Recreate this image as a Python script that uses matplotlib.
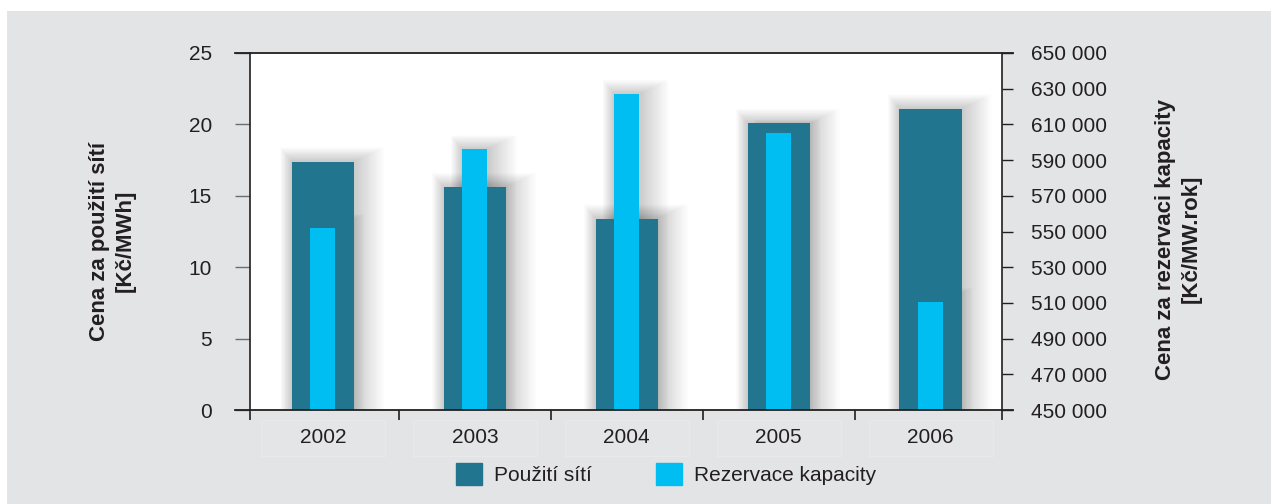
import matplotlib
matplotlib.use("Agg")
import matplotlib.pyplot as plt
from matplotlib.patches import Rectangle
from matplotlib.ticker import FuncFormatter, FixedLocator
import numpy as np

plt.rcParams['font.family'] = ['Liberation Sans', 'DejaVu Sans']

years = ['2002', '2003', '2004', '2005', '2006']
pouziti_siti = [17.4, 15.6, 13.4, 20.1, 21.1]              # Kč/MWh (left axis)
rezervace_kapacity = [552000, 596000, 627000, 605000, 510500]  # Kč/MW.rok (right axis)
left_ticks = [0, 5, 10, 15, 20, 25]
right_ticks = list(range(450000, 650001, 20000))
legend_labels = ['Použití sítí', 'Rezervace kapacity']
ylabel_left = 'Cena za použití sítí\n[Kč/MWh]'
ylabel_right = 'Cena za rezervaci kapacity\n[Kč/MW.rok]'

DARK = '#21758F'
LIGHT = '#00BDF2'
BG = '#E3E4E6'
TXT = '#231F20'
FS = 15

W, H = 1278, 504
fig = plt.figure(figsize=(W / 100, H / 100), dpi=100)
fig.patch.set_facecolor('white')
fig.patches.append(Rectangle((7 / W, 0), (1271 - 7) / W, 1 - 11 / H,
                             transform=fig.transFigure, facecolor=BG,
                             edgecolor='none', zorder=0))

x0, x1, yt, yb = 250, 1002, 53, 410
ax = fig.add_axes([x0 / W, 1 - yb / H, (x1 - x0) / W, (yb - yt) / H])
ax2 = ax.twinx()
ax.set_zorder(1)
ax2.set_zorder(2)
ax2.patch.set_visible(False)
ax.set_facecolor('white')

x = np.arange(len(years))
XL = (-0.48, 4.47)
YL1 = (0, 25)
YL2 = (450000, 650000)
ax.set_xlim(*XL)
ax.set_ylim(*YL1)
ax2.set_ylim(*YL2)

wd, wl = 0.41, 0.165

# soft drop shadow: stacked translucent rectangles growing outward (pixel-based)
pxx = (XL[1] - XL[0]) / (x1 - x0)
def add_shadow(xc, w, base, top, ypx, trans):
    n = 26
    for k in range(1, n + 1):
        l = k * 0.45 * pxx
        r = k * 1.15 * pxx
        t = k * 0.55 * ypx
        rect = Rectangle((xc - w / 2 - l, base), w + l + r, (top - base) + t,
                         facecolor='black', edgecolor='none', alpha=0.009,
                         zorder=1, transform=trans)
        ax.add_patch(rect)
        rect.set_transform(trans)

ypx1 = (YL1[1] - YL1[0]) / (yb - yt)
ypx2 = (YL2[1] - YL2[0]) / (yb - yt)
for xi, v in zip(x, pouziti_siti):
    add_shadow(xi, wd, 0, v, ypx1, ax.transData)
for xi, v in zip(x, rezervace_kapacity):
    add_shadow(xi, wl, 450000, v, ypx2, ax2.transData)

ax.bar(x, pouziti_siti, width=wd, color=DARK, zorder=2, label=legend_labels[0])
ax2.bar(x, np.array(rezervace_kapacity) - 450000, bottom=450000, width=wl,
        color=LIGHT, zorder=3, label=legend_labels[1])

for a in (ax, ax2):
    for s in a.spines.values():
        s.set_visible(False)

ax.plot([0, 0], [0, 1], transform=ax.transAxes, color=TXT, lw=1.2, clip_on=False, zorder=5)
ax2.plot([1, 1], [0, 1], transform=ax2.transAxes, color=TXT, lw=1.2, clip_on=False, zorder=5)
ext_l = -15 / (x1 - x0)
ext_r = 1 + 11 / (x1 - x0)
for yy in (0, 1):
    ax2.plot([ext_l, ext_r], [yy, yy], transform=ax2.transAxes, color=TXT,
             lw=1.3, clip_on=False, zorder=5)

ax.set_yticks(left_ticks)
ax.tick_params(axis='y', direction='out', length=10.8, width=1.0, color='#6d6e71',
               labelsize=FS, labelcolor=TXT, pad=16.5)
ax2.set_yticks(right_ticks)
ax2.yaxis.set_major_formatter(FuncFormatter(lambda v, p: f"{int(v):,}".replace(',', ' ')))
ax2.tick_params(axis='y', direction='out', length=8, width=1.0, color=TXT,
                labelsize=FS, labelcolor=TXT, pad=13)

ax.set_xticks(x)
ax.set_xticklabels(years)
ax.tick_params(axis='x', which='major', length=0, labelsize=FS, labelcolor=TXT, pad=13)
ax.xaxis.set_minor_locator(FixedLocator([XL[0], 0.5, 1.5, 2.5, 3.5, XL[1]]))
ax.tick_params(axis='x', which='minor', direction='out', length=7.5, width=1.2, color=TXT)

for xi in x:
    fig.patches.append(Rectangle(((323 + 152 * xi - 62) / W, 1 - 456 / H), 124 / W, 36 / H,
                                 transform=fig.transFigure, facecolor='#E4E5E7',
                                 edgecolor='#E8E9EB', lw=0.8, zorder=0.5))

fig.text(112 / W, 1 - 241 / H, ylabel_left, rotation=90, ha='center', va='center',
         fontsize=16, fontweight='bold', color=TXT, linespacing=1.3, multialignment='center')
fig.text(1178 / W, 1 - 239 / H, ylabel_right, rotation=90, ha='center', va='center',
         fontsize=16, fontweight='bold', color=TXT, linespacing=1.3, multialignment='center')

handles = [Rectangle((0, 0), 1, 1, color=DARK), Rectangle((0, 0), 1, 1, color=LIGHT)]
fig.legend(handles, legend_labels, loc='center', bbox_to_anchor=(666 / W, 1 - 474 / H),
           ncol=2, frameon=False, fontsize=FS, handlelength=1.25, handleheight=1.25,
           handletextpad=0.58, columnspacing=3.1, labelcolor=TXT, borderpad=0)

fig.savefig('out.png', dpi=100, facecolor=fig.get_facecolor())
